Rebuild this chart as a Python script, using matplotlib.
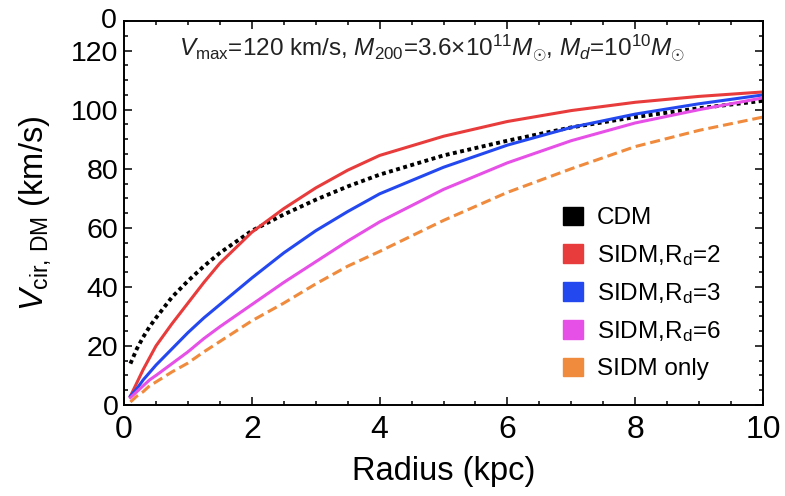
import matplotlib
matplotlib.use("Agg")
import matplotlib.pyplot as plt
from matplotlib.patches import Patch
from matplotlib.ticker import MultipleLocator

plt.rcParams['font.family'] = ['Liberation Sans', 'DejaVu Sans']
plt.rcParams['mathtext.fontset'] = 'custom'
plt.rcParams['mathtext.rm'] = 'Liberation Sans'
plt.rcParams['mathtext.it'] = 'Liberation Sans:italic'

# radius grid (kpc) and circular velocities (km/s)
radius = [0.1, 0.2, 0.3, 0.4, 0.5, 0.75, 1, 1.25, 1.5, 2, 2.5, 3, 3.5, 4, 5, 6, 7, 8, 9, 10]
v_cdm = [14, 19, 23, 26.5, 29.5, 36.5, 42, 47, 51.5, 59, 64.5, 69.5, 74, 78, 84.5, 89.5, 94, 97.5, 100.5, 103]
v_rd2 = [3, 7.5, 12, 16, 20, 27.5, 34.5, 41.5, 48, 58.5, 66.5, 73.5, 79.5, 84.5, 91, 96, 99.7, 102.5, 104.5, 106]
v_rd3 = [3, 5.5, 8.5, 11, 13.5, 19, 24.5, 29.5, 34, 43, 51.5, 59, 65.5, 71.5, 80.5, 88, 94, 98.5, 102, 105]
v_rd6 = [2.5, 4.5, 6.5, 8.5, 10, 14, 18, 22.5, 26.5, 34, 41.5, 48.5, 55.5, 62, 73, 82, 89.5, 95.5, 100, 104]
v_sidm = [1, 3, 4.5, 6.5, 7.8, 11.2, 14.2, 18, 21.5, 28.5, 34.5, 41, 47, 52, 62.5, 72, 80, 87.5, 93, 97.5]

labels = ["CDM", r"SIDM,R$_\mathregular{d}$=2", r"SIDM,R$_\mathregular{d}$=3",
          r"SIDM,R$_\mathregular{d}$=6", "SIDM only"]
colors = ["#000000", "#E83B3B", "#2448F0", "#E650E6", "#F08A3C"]

fig = plt.figure(figsize=(7.85, 4.96), dpi=100)
ax = fig.add_axes([0.158, 0.1835, 0.814, 0.774])

ax.plot(radius, v_cdm, color=colors[0], lw=2.8, linestyle=(0, (1.0, 0.9)))
ax.plot(radius, v_rd2, color=colors[1], lw=2.2)
ax.plot(radius, v_rd3, color=colors[2], lw=2.2)
ax.plot(radius, v_rd6, color=colors[3], lw=2.2)
ax.plot(radius, v_sidm, color=colors[4], lw=2.2, linestyle=(0, (3.3, 1.6)))

ax.set_xlim(0, 10)
ax.set_ylim(0, 130)
ax.xaxis.set_major_locator(MultipleLocator(2))
ax.xaxis.set_minor_locator(MultipleLocator(0.5))
ax.yaxis.set_major_locator(MultipleLocator(20))
ax.yaxis.set_minor_locator(MultipleLocator(5))
ax.tick_params(which='both', direction='in', top=True, right=True, width=1.1)
ax.tick_params(which='major', length=5.5)
ax.tick_params(which='minor', length=3.2)
ax.tick_params(axis='x', which='major', pad=7, labelsize=23)
ax.tick_params(axis='y', which='major', pad=4, labelsize=20.5)
for s in ax.spines.values():
    s.set_linewidth(1.4)

ax.set_xlabel("Radius (kpc)", fontsize=23.5, labelpad=8)
ax.set_ylabel(r"$V_{\mathregular{cir,\,DM}}$ (km/s)", fontsize=23.5, labelpad=13)

# stray label at the top-left corner of the frame
ax.text(-0.012, 1.0, "0", transform=ax.transAxes, ha='right', va='center', fontsize=20.5)

ax.text(0.482, 0.93,
        r"$V_{\mathregular{max}}$=120 km/s, $M_{\mathregular{200}}$=3.6×10$^{\mathregular{11}}$$M_{\odot}$, "
        r"$M_d$=10$^{\mathregular{10}}$$M_{\odot}$",
        transform=ax.transAxes, ha='center', va='center', fontsize=17.5, color='#222222')

handles = [Patch(facecolor=c, edgecolor=c) for c in colors]
ax.legend(handles, labels, loc='upper left', bbox_to_anchor=(0.687, 0.517),
          frameon=False, fontsize=17.5, handlelength=0.82, handleheight=0.82,
          handletextpad=0.58, labelspacing=0.55, borderpad=0, borderaxespad=0)

fig.savefig("out.png", dpi=100)
